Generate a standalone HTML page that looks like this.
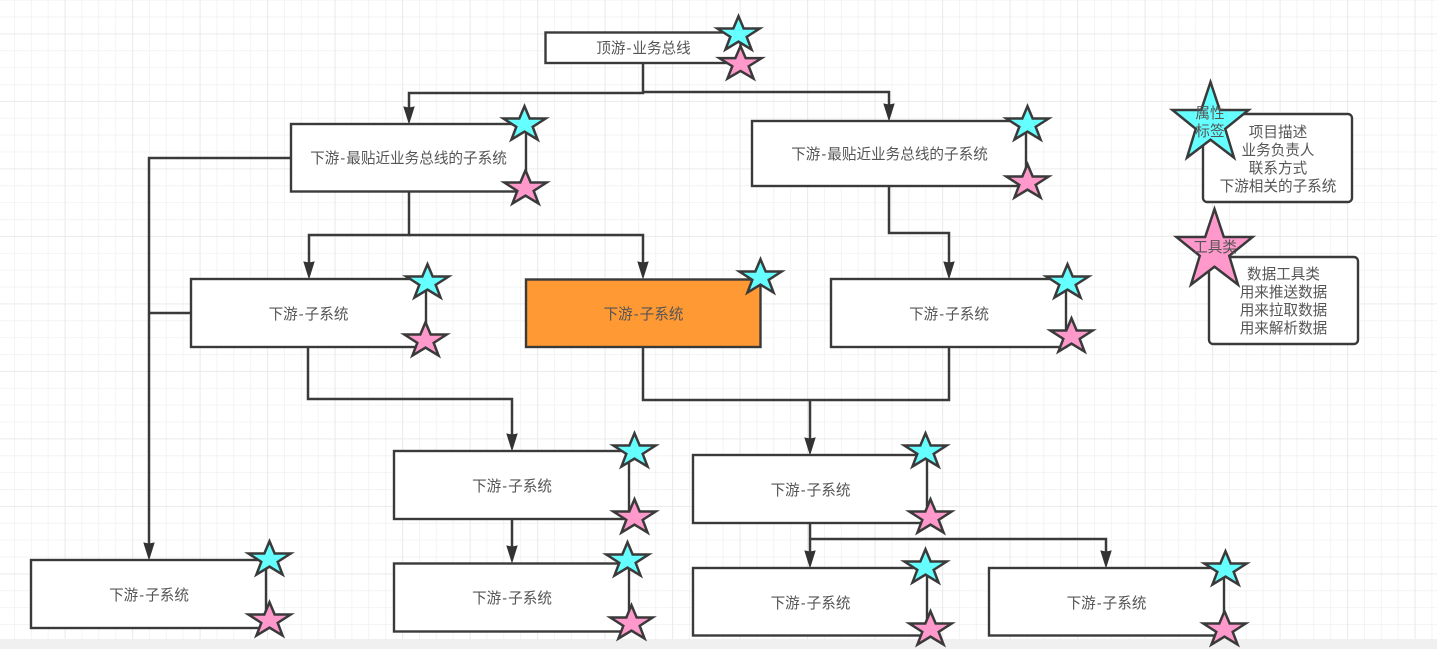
<!DOCTYPE html>
<html>
<head>
<meta charset="utf-8">
<style>
html,body{margin:0;padding:0;background:#fff;width:1437px;height:649px;overflow:hidden}
svg{display:block;position:absolute;left:0;top:0}
text{font-family:"Liberation Sans","Noto Sans CJK SC",sans-serif;font-size:14.6px;fill:#555;text-anchor:middle}
.b{fill:#fff;stroke:#3a3a3a;stroke-width:2.4}
.l{fill:none;stroke:#3a3a3a;stroke-width:2.5}
.s{stroke:#3a3a3a;stroke-width:2.5;stroke-linejoin:miter}
.c{fill:#66ffff}
.p{fill:#ff99cc}
.a{fill:#333;stroke:#333;stroke-width:1}
.minor{stroke:#f0f0f0;stroke-width:1.5}
.major{stroke:#e8e8e8;stroke-width:1.6}
</style>
</head>
<body>
<svg width="1437" height="649" viewBox="0 0 1437 649" xmlns="http://www.w3.org/2000/svg">
<defs>
<pattern id="gm" x="14" y="16.6" width="16.875" height="16.875" patternUnits="userSpaceOnUse">
<path d="M0 0V16.875M0 0H16.875" class="minor" fill="none"/>
</pattern>
<pattern id="gM" x="64.7" y="33.5" width="67.5" height="67.5" patternUnits="userSpaceOnUse">
<path d="M0 0V67.5M0 0H67.5" class="major" fill="none"/>
</pattern>
<polygon id="star" vector-effect="non-scaling-stroke" points="0.5,0.06 0.615,0.393 0.97,0.393 0.682,0.617 0.79,0.96 0.5,0.747 0.21,0.96 0.318,0.617 0.03,0.393 0.385,0.393"/>
</defs>
<rect width="1437" height="649" fill="#fff"/>
<rect width="1437" height="649" fill="url(#gm)"/>
<rect width="1437" height="649" fill="url(#gM)"/>
<rect x="0" y="639" width="1437" height="10" fill="#f0f0f0"/>

<!-- connectors -->
<path class="l" d="M643 63V93H409V112"/>
<path class="l" d="M643 92H889V109"/>
<path class="l" d="M409 191V235H309V267"/>
<path class="l" d="M409 235H643V267"/>
<path class="l" d="M889 186V233H949V267"/>
<path class="l" d="M291 158H149V548"/>
<path class="l" d="M191 313H148"/>
<path class="l" d="M308 347V399H512V439"/>
<path class="l" d="M643 347V400H949V347"/>
<path class="l" d="M810 400V443"/>
<path class="l" d="M512 519V551"/>
<path class="l" d="M810 523V556"/>
<path class="l" d="M810 539H1106V556"/>

<!-- arrowheads -->
<polygon class="a" points="409,123 404,107 409,108 414,107"/>
<polygon class="a" points="889,120 884,104 889,105 894,104"/>
<polygon class="a" points="309,278 304,262 309,263 314,262"/>
<polygon class="a" points="643,278 638,262 643,263 648,262"/>
<polygon class="a" points="949,278 944,262 949,263 954,262"/>
<polygon class="a" points="149,559 144,543 149,544 154,543"/>
<polygon class="a" points="512,450 507,434 512,435 517,434"/>
<polygon class="a" points="810,454 805,438 810,439 815,438"/>
<polygon class="a" points="512,562 507,546 512,547 517,546"/>
<polygon class="a" points="810,567 805,551 810,552 815,551"/>
<polygon class="a" points="1106,567 1101,551 1106,552 1111,551"/>

<!-- boxes -->
<rect class="b" x="545.5" y="32.5" width="195" height="30.5"/>
<rect class="b" x="291" y="124" width="235" height="67.5"/>
<rect class="b" x="752" y="121" width="274" height="65"/>
<rect class="b" x="191" y="279" width="235" height="68"/>
<rect class="b" x="526" y="279.500" width="234.500" height="67.500" style="fill:#ff9933"/>
<rect class="b" x="831" y="279" width="235" height="68"/>
<rect class="b" x="394" y="451" width="235" height="68"/>
<rect class="b" x="693" y="455" width="234" height="68"/>
<rect class="b" x="31" y="560" width="235" height="68"/>
<rect class="b" x="394" y="563.500" width="235" height="68"/>
<rect class="b" x="693" y="568" width="234" height="67.500"/>
<rect class="b" x="989" y="568" width="235" height="67.500"/>
<rect class="b" x="1203" y="114" width="149" height="88" rx="4"/>
<rect class="b" x="1209" y="257" width="149" height="87" rx="4"/>

<!-- box labels -->
<text x="643.500" y="53">顶游<tspan dx="1">-</tspan><tspan dx="1">业务总线</tspan></text>
<text x="408.500" y="163">下游<tspan dx="1">-</tspan><tspan dx="1">最贴近业务总线的子系统</tspan></text>
<text x="889.500" y="159">下游<tspan dx="1">-</tspan><tspan dx="1">最贴近业务总线的子系统</tspan></text>
<text x="308.500" y="319">下游<tspan dx="1">-</tspan><tspan dx="1">子系统</tspan></text>
<text x="643.500" y="319">下游<tspan dx="1">-</tspan><tspan dx="1">子系统</tspan></text>
<text x="949" y="319">下游<tspan dx="1">-</tspan><tspan dx="1">子系统</tspan></text>
<text x="512" y="491">下游<tspan dx="1">-</tspan><tspan dx="1">子系统</tspan></text>
<text x="810.500" y="495">下游<tspan dx="1">-</tspan><tspan dx="1">子系统</tspan></text>
<text x="149" y="600">下游<tspan dx="1">-</tspan><tspan dx="1">子系统</tspan></text>
<text x="512" y="603">下游<tspan dx="1">-</tspan><tspan dx="1">子系统</tspan></text>
<text x="810.500" y="608">下游<tspan dx="1">-</tspan><tspan dx="1">子系统</tspan></text>
<text x="1106.500" y="608">下游<tspan dx="1">-</tspan><tspan dx="1">子系统</tspan></text>

<!-- small stars -->
<g class="s c">
<use href="#star" transform="translate(716,14) scale(45,37)"/>
<use href="#star" transform="translate(502,104) scale(45,37)"/>
<use href="#star" transform="translate(1005,104) scale(45,37)"/>
<use href="#star" transform="translate(405,262) scale(45,37)"/>
<use href="#star" transform="translate(738,257) scale(45,37)"/>
<use href="#star" transform="translate(1045,262) scale(45,37)"/>
<use href="#star" transform="translate(612,431) scale(45,37)"/>
<use href="#star" transform="translate(903,431) scale(45,37)"/>
<use href="#star" transform="translate(605,540) scale(45,37)"/>
<use href="#star" transform="translate(903,547) scale(45,37)"/>
<use href="#star" transform="translate(1203,549) scale(45,37)"/>
<use href="#star" transform="translate(247,539) scale(45,37)"/>
</g>
<g class="s p">
<use href="#star" transform="translate(718,44) scale(45,36)"/>
<use href="#star" transform="translate(503,168) scale(45,37)"/>
<use href="#star" transform="translate(1005,162) scale(45,37)"/>
<use href="#star" transform="translate(403,320) scale(45,37)"/>
<use href="#star" transform="translate(1049,316) scale(45,37)"/>
<use href="#star" transform="translate(612,497) scale(45,37)"/>
<use href="#star" transform="translate(908,497) scale(45,37)"/>
<use href="#star" transform="translate(609,603) scale(45,37)"/>
<use href="#star" transform="translate(908,609) scale(45,37)"/>
<use href="#star" transform="translate(1202,609) scale(45,37)"/>
<use href="#star" transform="translate(247,600) scale(45,37)"/>
</g>

<!-- legend -->
<use class="s c" href="#star" transform="translate(1170,77) scale(81,84)"/>
<use class="s p" href="#star" transform="translate(1174,204) scale(81,84)"/>
<text x="1210" y="118">属性</text>
<text x="1210" y="136">标签</text>
<text x="1215" y="252">工具类</text>
<text x="1278" y="137">项目描述</text>
<text x="1278" y="155">业务负责人</text>
<text x="1278" y="173">联系方式</text>
<text x="1278" y="191">下游相关的子系统</text>
<text x="1283.500" y="279">数据工具类</text>
<text x="1283.500" y="297">用来推送数据</text>
<text x="1283.500" y="315">用来拉取数据</text>
<text x="1283.500" y="333">用来解析数据</text>
</svg>
</body>
</html>
